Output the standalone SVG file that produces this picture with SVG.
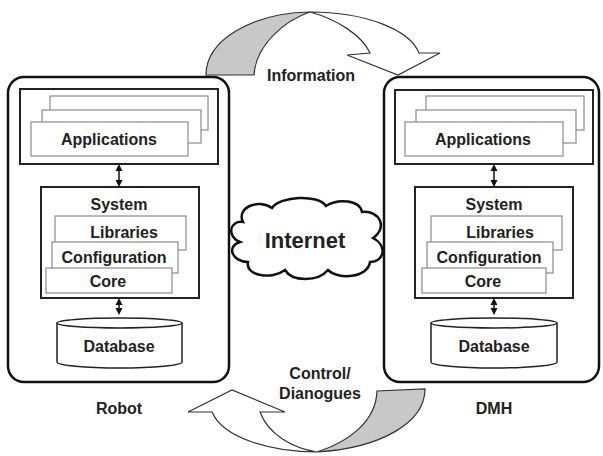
<svg xmlns="http://www.w3.org/2000/svg" width="603" height="456" viewBox="0 0 603 456">
<defs>
<style>
text{font-family:"Liberation Sans",Arial,sans-serif;font-weight:bold;fill:#222;text-anchor:middle;dominant-baseline:central}
.t{font-size:16px}
.outer{fill:#fff;stroke:#111;stroke-width:2.5}
.box{fill:#fff;stroke:#222;stroke-width:2}
.card{fill:#fff;stroke:#8a8a8a;stroke-width:1.2}
.db{fill:#fff;stroke:#222;stroke-width:1.5}
.link{stroke:#111;stroke-width:1.5;fill:none}
.head{fill:#111}
.ribbon{stroke:#333;stroke-width:1.2}
</style>
</defs>
<rect width="603" height="456" fill="#fff"/>

<g id="robot">
<rect class="outer" x="8" y="77" width="221" height="305" rx="16"/>
<g id="robot-apps">
<rect class="box" x="20" y="89" width="198" height="75"/>
<rect class="card" x="50" y="96" width="158" height="34"/>
<rect class="card" x="42" y="110" width="159" height="33"/>
<rect class="card" x="31" y="122" width="157" height="34"/>
<text class="t" x="109" y="139">Applications</text>
</g>
<g id="robot-system">
<rect class="box" x="41" y="187" width="158" height="111"/>
<text class="t" x="119" y="204">System</text>
<rect class="card" x="55" y="216" width="131" height="34"/>
<text class="t" x="124" y="232">Libraries</text>
<rect class="card" x="52" y="242" width="126" height="31"/>
<text class="t" x="114" y="257">Configuration</text>
<rect class="card" x="46" y="268" width="126" height="25"/>
<text class="t" x="108" y="281">Core</text>
</g>
<g id="robot-db">
<path class="db" d="M57,323 L57,362 A62.5,6 0 0 0 182,362 L182,323"/>
<ellipse class="db" cx="119.5" cy="323" rx="62.5" ry="5"/>
<text class="t" x="119" y="346">Database</text>
</g>
<text class="t" x="119" y="408">Robot</text>
</g>

<g id="dmh">
<rect class="outer" x="384" y="77" width="215" height="305" rx="16"/>
<g id="dmh-apps">
<rect class="box" x="395" y="90" width="198" height="74"/>
<rect class="card" x="426" y="96" width="158" height="34"/>
<rect class="card" x="416" y="110" width="160" height="33"/>
<rect class="card" x="405" y="122" width="158" height="34"/>
<text class="t" x="483" y="139">Applications</text>
</g>
<g id="dmh-system">
<rect class="box" x="415" y="187" width="158" height="111"/>
<text class="t" x="494" y="204">System</text>
<rect class="card" x="431" y="216" width="131" height="34"/>
<text class="t" x="500" y="232">Libraries</text>
<rect class="card" x="427" y="242" width="126" height="31"/>
<text class="t" x="489" y="257">Configuration</text>
<rect class="card" x="422" y="268" width="124" height="25"/>
<text class="t" x="483" y="281">Core</text>
</g>
<g id="dmh-db">
<path class="db" d="M431,323 L431,362 A63,6 0 0 0 557,362 L557,323"/>
<ellipse class="db" cx="494" cy="323" rx="63" ry="5"/>
<text class="t" x="494" y="346">Database</text>
</g>
<text class="t" x="494" y="408">DMH</text>
</g>

<g id="internet">
<path fill="#fff" stroke="#111" stroke-width="2.5" d="M243,222 C236,208 258,198 272,208 C280,196 318,194 326,206 C338,198 360,200 362,212 C380,210 388,228 373,238 C388,246 384,262 370,262 C368,278 338,280 328,270 C318,282 292,282 285,270 C272,280 245,276 248,262 C232,262 226,246 240,242 C226,236 230,220 243,222 Z"/>
<text x="305" y="240" style="font-size:22px">Internet</text>
</g>

<g id="connectors">
<line class="link" x1="119" y1="168" x2="119" y2="183"/>
<path class="head" d="M119,164 L122.5,171 L115.5,171 Z M119,187 L122.5,180 L115.5,180 Z"/>
<line class="link" x1="119" y1="302" x2="119" y2="311"/>
<path class="head" d="M119,298 L122.5,305 L115.5,305 Z M119,315 L122.5,308 L115.5,308 Z"/>
<line class="link" x1="494" y1="168" x2="494" y2="183"/>
<path class="head" d="M494,164 L497.5,171 L490.5,171 Z M494,187 L497.5,180 L490.5,180 Z"/>
<line class="link" x1="494" y1="302" x2="494" y2="311"/>
<path class="head" d="M494,298 L497.5,305 L490.5,305 Z M494,315 L497.5,308 L490.5,308 Z"/>

<g id="info-arrow">
<path class="ribbon" fill="#c8c8c8" d="M206,75 C206,40 252,13 310,12 C286,20 256,44 254,75 Z"/>
<path class="ribbon" fill="#fff" d="M310,12 C366,12 410,30 419,53 L440,53 L398,75 L347,55 L370,53 C362,35 336,19 310,12 Z"/>
<text class="t" x="311" y="75">Information</text>
</g>
<g id="control-arrow">
<path class="ribbon" fill="#c8c8c8" d="M425,389 C425,422 382,448 317,452 C348,442 376,422 377,391 Z"/>
<path class="ribbon" fill="#fff" d="M317,452 C276,452 224,440 212,412 L188,412 L232,390 L285,412 L260,412 C268,434 292,448 317,452 Z"/>
<text class="t" x="320" y="373">Control/</text>
<text class="t" x="320" y="393">Dianogues</text>
</g>
</g>
</svg>
